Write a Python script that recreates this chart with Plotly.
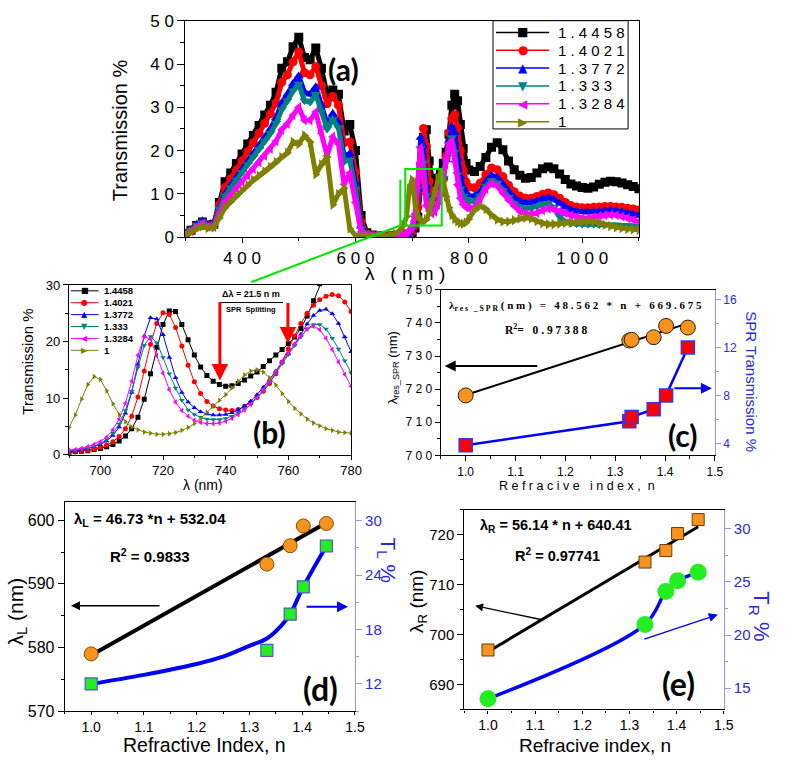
import plotly.graph_objects as go

W, H = 787, 766
FONT = "Arial, 'Liberation Sans', sans-serif"
SERIF = "'Times New Roman', 'Liberation Serif', serif"
BIGF = "Lato, 'Open Sans', sans-serif"
GLYPHF = "'DejaVu Sans', sans-serif"
NB = "\u00a0"

# ------------------------------------------------------------------ data
series_names = ["1.4458", "1.4021", "1.3772", "1.333", "1.3284", "1"]
series_colors = ["#000000", "#FF0000", "#0000FF", "#008080", "#FF00FF", "#808000"]
series_symbols = ["square", "circle", "triangle-up", "triangle-down", "triangle-left", "triangle-right"]
series_glyphs = ["■", "●", "▲", "▼", "◀", "▶"]

# panel (a): wavelength grid (nm)
lam_a = list(range(300, 690, 10)) + list(range(685, 801, 5)) + list(range(810, 1101, 10))

T_a_14458 = [0.8, 1.6, 2.7, 3.5, 2.8, 3.0, 8.0, 12.8, 14.8, 17.0, 19.2, 21.5, 23.5, 25.8, 28.2, 30.5,
             33.5, 39.0, 40.5, 44.0, 46.2, 41.5, 41.0, 43.7, 39.0, 33.0, 34.0, 33.0, 24.5, 26.0, 20.0, 5.0,
             1.0, 0.5, 0.3, 0.3, 0.3, 0.4, 0.5,
             0.5, 0.5, 0.7, 1.1, 2.1, 4.6, 12.0, 23.0, 24.8, 17.6, 13.6, 12.1, 12.9, 14.6, 17.1, 19.6,
             23.8, 30.5, 33.0, 31.5, 26.0, 20.5, 17.0, 15.5,
             15.2, 16.3, 18.4, 20.8, 21.8, 20.2, 17.6, 15.6, 14.3, 13.6, 13.8, 14.8, 15.8, 16.2, 15.8,
             14.6, 13.3, 12.3, 11.8, 11.5, 11.3, 11.6, 12.2, 12.7, 12.9, 12.8, 12.5, 12.1, 11.7, 11.2]
T_a_14021 = [0.8, 1.5, 2.6, 3.4, 2.7, 2.9, 7.5, 11.5, 13.5, 15.5, 17.6, 19.7, 21.8, 24.0, 26.3, 28.5,
             31.0, 35.8, 37.5, 40.5, 42.8, 38.0, 37.5, 39.4, 35.0, 30.8, 32.5, 30.5, 21.8, 22.0, 15.0, 3.5,
             0.8, 0.4, 0.3, 0.3, 0.3, 0.4, 0.5,
             0.5, 0.5, 0.8, 1.3, 2.7, 6.8, 17.0, 25.1, 21.0, 12.9, 9.0, 7.9, 8.2, 10.1, 13.4, 18.7,
             24.1, 27.4, 28.3, 25.3, 20.0, 15.5, 12.8, 11.6,
             11.4, 12.5, 14.5, 16.0, 15.6, 14.0, 12.0, 10.5, 9.5, 9.0, 9.0, 9.4, 9.9, 10.2, 9.8,
             9.0, 8.0, 7.3, 7.0, 6.8, 6.8, 6.9, 7.0, 7.1, 7.1, 7.0, 6.9, 6.7, 6.5, 6.3]
T_a_13772 = [0.9, 1.8, 3.0, 3.8, 2.9, 2.8, 6.8, 10.0, 12.0, 13.8, 15.6, 17.4, 19.2, 21.0, 23.0, 25.0,
             27.5, 31.0, 33.0, 35.5, 37.2, 33.5, 33.0, 34.7, 30.5, 26.1, 28.5, 26.5, 18.8, 19.3, 12.5, 2.5,
             0.7, 0.4, 0.3, 0.3, 0.3, 0.4, 0.5,
             0.5, 0.6, 1.0, 1.8, 4.1, 11.0, 23.0, 21.2, 12.0, 8.3, 7.1, 7.1, 8.2, 10.6, 14.0, 17.8,
             22.2, 25.5, 24.1, 18.2, 14.0, 11.5, 10.2, 9.6,
             9.5, 10.5, 12.8, 14.3, 13.8, 12.2, 10.5, 9.1, 8.3, 7.9, 8.0, 8.4, 8.9, 9.1, 8.7,
             7.8, 6.9, 6.3, 6.0, 5.8, 5.8, 5.9, 6.0, 6.1, 6.2, 6.1, 5.9, 5.6, 5.3, 5.0]
T_a_1333 = [0.8, 1.6, 2.7, 3.4, 2.6, 2.6, 6.5, 9.5, 11.4, 13.2, 15.0, 16.8, 18.5, 20.3, 22.2, 24.0,
            26.3, 29.5, 31.5, 33.8, 35.4, 31.5, 31.2, 33.0, 29.0, 25.0, 27.2, 25.3, 17.5, 17.8, 11.0, 2.0,
            0.6, 0.4, 0.3, 0.3, 0.3, 0.4, 0.5,
            0.6, 0.7, 1.3, 2.0, 4.5, 11.2, 20.5, 17.2, 9.7, 7.1, 6.2, 6.4, 7.6, 10.0, 13.6, 17.7,
            21.5, 23.0, 19.7, 14.5, 11.2, 9.5, 8.7, 8.3,
            8.3, 9.5, 11.8, 13.1, 12.5, 10.8, 9.2, 7.8, 7.0, 6.6, 6.8, 7.2, 7.7, 7.8, 6.8,
            4.8, 3.6, 3.2, 3.1, 3.0, 3.0, 3.0, 2.9, 2.9, 2.8, 2.8, 2.7, 2.7, 2.6, 2.5]
T_a_13284 = [0.7, 1.4, 2.4, 3.1, 2.4, 2.4, 5.5, 8.2, 9.8, 11.3, 12.8, 14.3, 15.8, 17.3, 18.8, 20.4,
             22.2, 24.8, 26.2, 28.2, 30.0, 27.0, 27.0, 28.9, 24.0, 18.8, 23.2, 21.5, 12.2, 14.8, 8.0, 1.2,
             0.5, 0.3, 0.3, 0.3, 0.3, 0.4, 0.5,
             0.6, 0.8, 1.6, 2.3, 5.3, 13.0, 20.6, 14.4, 7.3, 6.1, 5.5, 5.9, 7.5, 10.1, 13.8, 18.0,
             21.6, 22.1, 17.5, 12.1, 9.0, 7.6, 6.9, 6.7,
             7.0, 8.8, 11.2, 12.4, 11.8, 10.2, 8.6, 7.2, 6.0, 5.4, 5.3, 5.6, 6.2, 6.6, 6.4,
             6.0, 5.5, 5.0, 4.6, 4.4, 4.4, 4.6, 4.9, 5.1, 5.2, 5.1, 4.8, 4.4, 4.0, 3.6]
T_a_1 = [0.6, 1.2, 2.0, 2.5, 2.1, 2.2, 4.5, 6.8, 8.2, 9.5, 10.8, 12.0, 13.2, 14.2, 15.2, 16.2,
         17.3, 18.5, 19.5, 22.0, 21.5, 23.5, 22.0, 14.5, 16.8, 18.5, 7.5, 10.0, 11.3, 2.0, 0.4, 0.3,
         0.3, 0.3, 0.3, 0.3, 0.4, 0.8, 1.8,
         2.8, 4.8, 11.2, 13.3, 8.0, 4.8, 3.8, 3.6, 4.1, 5.5, 8.2, 10.6, 13.6, 15.0, 13.0, 9.4,
         6.8, 5.1, 4.2, 3.6, 3.2, 3.1, 3.4, 4.2,
         6.2, 7.2, 6.5, 5.1, 4.1, 3.6, 3.6, 3.9, 4.3, 4.5, 4.3, 3.7, 3.2, 3.0, 3.0,
         3.1, 3.3, 3.4, 3.5, 3.6, 3.7, 3.6, 3.3, 2.9, 2.6, 2.3, 2.1, 1.9, 1.8, 1.7]

# panel (b): zoom on 690-780 nm
lam_b = list(range(690, 781, 2))
T_b_14458 = [0.4, 0.5, 0.6, 0.7, 0.9, 1.1, 1.4, 1.8, 2.4, 3.3, 4.6, 6.6, 9.8, 14.3, 19.0, 23.0,
             25.4, 25.3, 23.0, 20.3, 17.6, 15.5, 14.0, 13.0, 12.4, 12.1, 12.2, 12.6, 13.2, 13.9,
             14.6, 15.6, 16.6, 17.6, 18.6, 19.6, 20.8, 22.3, 24.5, 27.2, 30.2, 33.0, 35.0, 36.0, 36.0, 35.0]
T_b_14021 = [0.5, 0.6, 0.7, 0.8, 1.0, 1.3, 1.7, 2.3, 3.2, 4.6, 6.8, 10.2, 14.8, 19.5, 23.2, 25.1,
             24.8, 22.5, 19.2, 15.8, 12.9, 10.8, 9.4, 8.6, 8.1, 7.9, 7.8, 8.0, 8.5, 9.2,
             10.1, 11.2, 12.6, 14.3, 16.4, 18.7, 21.0, 23.2, 25.0, 26.4, 27.4, 28.0, 28.3, 28.1, 27.0, 25.3]
T_b_13772 = [0.6, 0.7, 0.9, 1.1, 1.4, 1.8, 2.4, 3.4, 4.9, 7.3, 11.0, 16.0, 21.0, 24.2, 24.0, 21.2,
             17.2, 13.6, 11.0, 9.3, 8.3, 7.6, 7.2, 7.0, 7.0, 7.1, 7.4, 7.9, 8.6, 9.5,
             10.6, 11.9, 13.3, 14.8, 16.3, 17.8, 19.5, 21.3, 23.1, 24.6, 25.5, 25.7, 24.9, 23.2, 20.8, 18.2]
T_b_1333 = [0.7, 0.8, 1.0, 1.2, 1.5, 2.0, 2.7, 3.8, 5.4, 7.8, 11.2, 15.4, 19.3, 20.9, 19.8, 17.2,
            14.3, 11.8, 9.6, 7.9, 7.1, 6.6, 6.3, 6.2, 6.2, 6.4, 6.8, 7.3, 8.0, 8.9,
            10.0, 11.3, 12.8, 14.4, 16.1, 17.7, 19.3, 20.8, 22.2, 23.0, 23.0, 22.2, 20.6, 18.7, 16.6, 14.5]
T_b_13284 = [0.8, 0.9, 1.1, 1.4, 1.8, 2.3, 3.1, 4.4, 6.3, 9.1, 13.0, 17.6, 20.9, 20.4, 17.5, 14.4,
             11.5, 9.3, 7.8, 6.8, 6.1, 5.7, 5.5, 5.5, 5.6, 5.9, 6.4, 7.1, 7.9, 8.9,
             10.1, 11.5, 13.0, 14.7, 16.4, 18.0, 19.6, 21.0, 22.2, 22.7, 22.1, 20.6, 18.6, 16.4, 14.2, 12.1]
T_b_1 = [4.8, 7.0, 9.8, 12.4, 13.8, 13.3, 11.3, 9.0, 7.1, 5.8, 4.9, 4.4, 4.0, 3.8, 3.6, 3.6,
         3.7, 3.9, 4.3, 4.8, 5.5, 6.4, 7.5, 8.6, 9.6, 10.6, 11.8, 13.0, 14.1, 14.8,
         15.0, 14.6, 13.6, 12.3, 10.8, 9.4, 8.2, 7.2, 6.3, 5.6, 5.1, 4.6, 4.3, 4.0, 3.9, 3.8]

# panel (c)
n_c = [1.0, 1.3284, 1.333, 1.3772, 1.4021, 1.4458]
lam_spr = [718.1, 734.7, 734.9, 735.7, 739.1, 738.6]
T_spr = [3.85, 5.84, 6.2, 6.85, 8.0, 12.0]
slope_c, icpt_c = 48.562, 669.675

# panel (d)
n_d = [1.0, 1.333, 1.3772, 1.4021, 1.4458]
lam_L = [579.0, 593.1, 596.0, 599.1, 599.5]
T_L = [12.0, 15.7, 19.7, 22.7, 27.2]
n_TL_curve = [1.0, 1.1, 1.2, 1.25, 1.3, 1.333, 1.36, 1.3772, 1.4021, 1.4458]
T_L_curve = [12.0, 13.0, 14.2, 15.0, 16.2, 17.0, 18.4, 19.7, 22.7, 27.2]
slope_d, icpt_d = 46.73, 532.04

# panel (e)
n_e = [1.0, 1.333, 1.3772, 1.4021, 1.4458]
lam_R = [696.9, 714.5, 716.8, 720.2, 723.0]
T_R = [14.0, 21.0, 24.1, 25.1, 25.9]
slope_e, icpt_e = 56.14, 640.41

series_a = [T_a_14458, T_a_14021, T_a_13772, T_a_1333, T_a_13284, T_a_1]
series_b = [T_b_14458, T_b_14021, T_b_13772, T_b_1333, T_b_13284, T_b_1]


# ------------------------------------------------------------------ helpers
def X(p):
    return p / W


def Y(p):
    return 1 - p / H


def sp(s, gap=NB):
    """letter-spaced text (as drawn in the original)"""
    return gap.join(list(s))


def txt(text, x, y, size, color="black", family=FONT, xanchor="center", yanchor="middle", angle=0):
    return dict(text=text, x=X(x), y=Y(y), xref="paper", yref="paper", showarrow=False,
                font=dict(family=family, size=size, color=color), xanchor=xanchor,
                yanchor=yanchor, textangle=angle)


def arrow(tip, tail, color, width, size=1.0, head=2):
    return dict(text="", x=X(tip[0]), y=Y(tip[1]), xref="paper", yref="paper",
                ax=tail[0] - tip[0], ay=tail[1] - tip[1], showarrow=True,
                arrowhead=head, arrowsize=size, arrowwidth=width, arrowcolor=color,
                standoff=0, startstandoff=0)


def seg(x0, y0, x1, y1, color, width):
    return dict(type="line", xref="paper", yref="paper", x0=X(x0), y0=Y(y0), x1=X(x1), y1=Y(y1),
                line=dict(color=color, width=width))


def axis(dom, rng, size, color="black", linecolor="black", **kw):
    d = dict(domain=dom, range=rng, showgrid=False, zeroline=False, showline=True,
             linecolor=linecolor, linewidth=1.2, ticks="outside", ticklen=6, tickwidth=1.2,
             tickcolor=linecolor, tickfont=dict(family=FONT, size=size, color=color))
    d.update(kw)
    return d


fig = go.Figure()

# ---- panel (a)
for name, col, sym, vals in zip(series_names, series_colors, series_symbols, series_a):
    fig.add_trace(go.Scatter(x=lam_a, y=vals, xaxis="x", yaxis="y", mode="lines+markers", name=name,
                             line=dict(color=col, width=5), marker=dict(symbol=sym, size=9, color=col),
                             showlegend=False, hoverinfo="skip"))

# ---- panel (b)
for name, col, sym, vals in zip(series_names, series_colors, series_symbols, series_b):
    fig.add_trace(go.Scatter(x=lam_b, y=vals, xaxis="x2", yaxis="y2", mode="lines+markers", name=name,
                             line=dict(color=col, width=1), marker=dict(symbol=sym, size=5, color=col),
                             showlegend=False, hoverinfo="skip"))

# ---- panel (c)
fit_c_x = [min(n_c), max(n_c)]
fig.add_trace(go.Scatter(x=fit_c_x, y=[slope_c * v + icpt_c for v in fit_c_x], xaxis="x3", yaxis="y3",
                         mode="lines", line=dict(color="black", width=2), showlegend=False, hoverinfo="skip"))
fig.add_trace(go.Scatter(x=n_c, y=lam_spr, xaxis="x3", yaxis="y3", mode="markers",
                         marker=dict(symbol="circle", size=15, color="#F7941D", line=dict(color="#222", width=1)),
                         showlegend=False, hoverinfo="skip"))
fig.add_trace(go.Scatter(x=n_c, y=T_spr, xaxis="x3", yaxis="y4", mode="lines+markers",
                         line=dict(color="#0000FF", width=2.5),
                         marker=dict(symbol="square", size=13, color="#FF0000", line=dict(color="#3333FF", width=1.5)),
                         showlegend=False, hoverinfo="skip"))

# ---- panel (d)
fit_d_x = [min(n_d), max(n_d)]
fig.add_trace(go.Scatter(x=fit_d_x, y=[slope_d * v + icpt_d for v in fit_d_x], xaxis="x4", yaxis="y5",
                         mode="lines", line=dict(color="black", width=4), showlegend=False, hoverinfo="skip"))
fig.add_trace(go.Scatter(x=n_d, y=lam_L, xaxis="x4", yaxis="y5", mode="markers",
                         marker=dict(symbol="circle", size=14, color="#F7941D", line=dict(color="#8a4a00", width=1)),
                         showlegend=False, hoverinfo="skip"))
fig.add_trace(go.Scatter(x=n_TL_curve, y=T_L_curve, xaxis="x4", yaxis="y6", mode="lines",
                         line=dict(color="#0000FF", width=4, shape="spline"), showlegend=False, hoverinfo="skip"))
fig.add_trace(go.Scatter(x=n_d, y=T_L, xaxis="x4", yaxis="y6", mode="markers",
                         marker=dict(symbol="square", size=12, color="#22EE22", line=dict(color="#5555CC", width=1.2)),
                         showlegend=False, hoverinfo="skip"))

# ---- panel (e)
fit_e_x = [min(n_e), max(n_e)]
fig.add_trace(go.Scatter(x=fit_e_x, y=[slope_e * v + icpt_e for v in fit_e_x], xaxis="x5", yaxis="y7",
                         mode="lines", line=dict(color="black", width=3), showlegend=False, hoverinfo="skip"))
fig.add_trace(go.Scatter(x=n_e, y=lam_R, xaxis="x5", yaxis="y7", mode="markers",
                         marker=dict(symbol="square", size=12, color="#F7941D", line=dict(color="#6b3a00", width=1)),
                         showlegend=False, hoverinfo="skip"))
fig.add_trace(go.Scatter(x=n_e, y=T_R, xaxis="x5", yaxis="y8", mode="lines+markers",
                         line=dict(color="#0000FF", width=3.5, shape="spline"),
                         marker=dict(symbol="circle", size=17, color="#22EE22"),
                         showlegend=False, hoverinfo="skip"))

BLUE_TXT = "#2a2ad8"
BLUE_LINE = "#9999e6"
ntick = ["1.0", "1.1", "1.2", "1.3", "1.4", "1.5"]
nvals = [1.0, 1.1, 1.2, 1.3, 1.4, 1.5]

fig.update_layout(
    width=W, height=H, margin=dict(l=0, r=0, t=0, b=0),
    paper_bgcolor="white", plot_bgcolor="rgba(0,0,0,0)", showlegend=False,
    font=dict(family=FONT, color="black"),
    # (a)
    xaxis=axis([X(188), X(648)], [300, 1100], 17, anchor="y", mirror=True, ticklen=5,
               tickvals=[400, 600, 800, 1000], ticktext=[sp("400"), sp("600"), sp("800"), sp("1000")],
               minor=dict(tickvals=[300, 500, 700, 900, 1100], ticks="outside", ticklen=3, tickcolor="black")),
    yaxis=axis([Y(234), Y(12)], [0, 50], 17, anchor="x", mirror=True, ticklen=7,
               tickvals=[0, 10, 20, 30, 40, 50], ticktext=["0", sp("10"), sp("20"), sp("30"), sp("40"), sp("50")],
               minor=dict(dtick=5, ticks="outside", ticklen=4, tickcolor="black")),
    # (b)
    xaxis2=axis([X(70), X(356)], [690, 780], 13, anchor="y2", mirror=True, tick0=700, dtick=20, ticklen=4,
                minor=dict(dtick=10, ticks="outside", ticklen=2, tickcolor="black")),
    yaxis2=axis([Y(457), Y(283)], [0, 30], 13, anchor="x2", mirror=True, dtick=10, ticklen=5,
                minor=dict(dtick=5, ticks="outside", ticklen=3, tickcolor="black")),
    # (c)
    xaxis3=axis([X(447), X(725)], [0.95, 1.5], 12, anchor="y3", mirror=True, ticklen=5,
                tickvals=nvals, ticktext=ntick,
                minor=dict(dtick=0.05, ticks="outside", ticklen=3, tickcolor="black")),
    yaxis3=axis([Y(457.7), Y(288)], [700, 750], 12, anchor="x3", ticklen=5,
                tickvals=[700, 710, 720, 730, 740, 750],
                ticktext=[sp("700"), sp("710"), sp("720"), sp("730"), sp("740"), sp("750")],
                minor=dict(dtick=5, ticks="outside", ticklen=3, tickcolor="black")),
    yaxis4=axis([Y(457.7), Y(288)], [3, 16.8], 12, color=BLUE_TXT, linecolor=BLUE_LINE, anchor="x3",
                overlaying="y3", side="right", ticklen=5, tickvals=[4, 8, 12, 16],
                minor=dict(dtick=2, ticks="outside", ticklen=3, tickcolor=BLUE_LINE)),
    # (d)
    xaxis4=axis([X(65.7), X(360)], [0.95, 1.5], 14, anchor="y5", mirror=True, ticklen=3,
                tickvals=nvals, ticktext=ntick,
                minor=dict(dtick=0.05, ticks="outside", ticklen=2, tickcolor="black")),
    yaxis5=axis([Y(720), Y(506)], [570, 602.8], 16, anchor="x4", ticklen=6,
                tickvals=[570, 580, 590, 600],
                minor=dict(dtick=5, ticks="outside", ticklen=3, tickcolor="black")),
    yaxis6=axis([Y(720), Y(506)], [9, 32], 15, color=BLUE_TXT, linecolor=BLUE_LINE, anchor="x4",
                overlaying="y5", side="right", ticklen=6, tickvals=[12, 18, 24, 30],
                minor=dict(dtick=3, ticks="outside", ticklen=3, tickcolor=BLUE_LINE)),
    # (e)
    xaxis5=axis([X(471), X(734)], [0.95, 1.5], 14, anchor="y7", mirror=True, ticklen=3,
                tickvals=nvals, ticktext=ntick,
                minor=dict(dtick=0.05, ticks="outside", ticklen=2, tickcolor="black")),
    yaxis7=axis([Y(718.3), Y(513.3)], [685, 725], 15, anchor="x5", ticklen=6,
                tickvals=[690, 700, 710, 720],
                minor=dict(dtick=5, ticks="outside", ticklen=3, tickcolor="black")),
    yaxis8=axis([Y(718.3), Y(513.3)], [13, 31.8], 15, color=BLUE_TXT, linecolor=BLUE_LINE, anchor="x5",
                overlaying="y7", side="right", ticklen=6, tickvals=[15, 20, 25, 30],
                minor=dict(dtick=2.5, ticks="outside", ticklen=3, tickcolor=BLUE_LINE)),
)

ann = []
shapes = []

# ---- (a) texts
ann.append(txt("Transmission %", 122, 124, 20, angle=-90))
ann.append(txt("λ" + NB * 3 + sp("(nm)"), 411, 271, 19))
ann.append(txt("<b>(a)</b>", 348, 62, 30, family=BIGF))
# legend (a)
shapes.append(dict(type="rect", xref="paper", yref="paper", x0=X(500), y0=Y(123), x1=X(637), y1=Y(12),
                   line=dict(color="black", width=1), fillcolor="white"))
for i, (lab, col, g) in enumerate(zip(series_names, series_colors, series_glyphs)):
    yy = 24 + 18.3 * i
    shapes.append(seg(503, yy, 557, yy, col, 1.5))
    ann.append(txt(g, 530, yy, 12, color=col, family=GLYPHF))
    ann.append(txt(sp(lab, " "), 564, yy, 15, xanchor="left"))
# green zoom box + connectors
GREEN = "#00E600"
shapes.append(dict(type="rect", xref="paper", yref="paper", x0=X(411), y0=Y(222), x1=X(448), y1=Y(164),
                   line=dict(color=GREEN, width=2)))
shapes.append(seg(406, 175, 406, 222, GREEN, 2))
shapes.append(seg(255, 280, 406, 222, GREEN, 2))

# ---- (b) texts
ann.append(txt("Transmission %", 27, 362, 15, angle=-90))
ann.append(txt("λ (nm)", 206, 488, 14))
ann.append(txt("<b>(b)</b>", 273, 434, 30, family=BIGF))
for i, (lab, col, g) in enumerate(zip(series_names, series_colors, series_glyphs)):
    yy = 289 + 12.2 * i
    shapes.append(seg(72, yy, 100, yy, col, 1))
    ann.append(txt(g, 86, yy, 8, color=col, family=GLYPHF))
    ann.append(txt("<b>" + lab + "</b>", 103, yy, 9.5, xanchor="left"))
ann.append(txt("<b>Δλ = 21.5 n m</b>", 255, 292, 9))
shapes.append(seg(222, 301, 287, 301, "black", 1))
ann.append(txt("<b>SPR  Splitting</b>", 255, 308, 7.5))
ann.append(arrow((223, 381), (223, 301), "#FF0000", 3, 1.1))
ann.append(arrow((292, 343), (292, 301), "#FF0000", 3, 1.1))

# ---- (c) texts
ann.append(txt("λ<sub>res_SPR</sub> (nm)", 399, 368, 13, angle=-90))
ann.append(txt(sp("Refracive") + NB * 3 + sp("index,") + NB * 2 + "n", 585, 489, 12.5))
ann.append(txt("SPR Transmission %", 762, 382, 15, color=BLUE_TXT, angle=90))
ann.append(txt("<b>λ<sub>" + sp("res _SPR") + "</sub>" + NB + sp("(nm) = 48.562 * n + 669.675") + "</b>",
               453, 305, 11, family=SERIF, xanchor="left"))
ann.append(txt("<b>R<sup>2</sup>" + sp("= 0.97388") + "</b>", 510, 328, 11.5, family=SERIF, xanchor="left"))
ann.append(txt("<b>(c)</b>", 693, 437, 30, family=BIGF))
ann.append(arrow((451, 366), (545, 366), "black", 2, 1.1))
ann.append(arrow((722, 389), (683, 389), "#0000FF", 2, 1.1))

# ---- (d) texts
ann.append(txt("λ<sub>L</sub> (nm)", 17, 618, 21, angle=-90))
ann.append(txt("Refractive Index, n", 207, 755, 19.5))
ann.append(txt("T<sub>L</sub> %", 393, 565, 21, color=BLUE_TXT, angle=90))
ann.append(txt("<b>λ<sub>L</sub> = 46.73 *n + 532.04</b>", 73, 523, 15, xanchor="left"))
ann.append(txt("<b>R<sup>2</sup> = 0.9833</b>", 110, 560, 15, xanchor="left"))
ann.append(txt("<b>(d)</b>", 325, 697, 32, family=BIGF))
ann.append(arrow((72, 612), (162, 612), "black", 1.5, 1.2))
ann.append(arrow((353, 613), (310, 613), "#0000FF", 2, 1.1))

# ---- (e) texts
ann.append(txt("λ<sub>R</sub> (nm)", 424, 608, 19, angle=-90))
ann.append(txt("Refracive index, n", 603, 755, 19))
ann.append(txt("T<sub>R</sub> %", 771, 623, 22, color=BLUE_TXT, angle=90))
ann.append(txt("<b>λ<sub>R</sub> = 56.14 * n + 640.41</b>", 485, 530, 14.5, xanchor="left"))
ann.append(txt("<b>R<sup>2</sup> = 0.97741</b>", 520, 560, 14.5, xanchor="left"))
ann.append(txt("<b>(e)</b>", 688, 692, 32, family=BIGF))
ann.append(arrow((482, 612), (549, 626), "black", 1.3, 1.2))
ann.append(arrow((728, 621), (653, 646), "#0000FF", 1.5, 1.2))

fig.update_layout(annotations=ann, shapes=shapes)
fig.write_html("out.html", config={"displayModeBar": False},
               post_script="document.body.style.margin='0px';document.body.style.overflow='hidden';")
